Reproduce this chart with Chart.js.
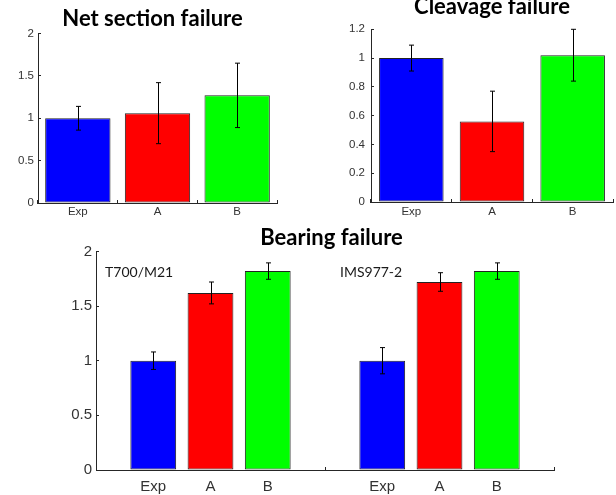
<!DOCTYPE html>
<html lang="en">
  <head>
    <meta charset="UTF-8" />
    <title>Failure mode strength ratios</title>
    <script src="https://cdn.jsdelivr.net/npm/chart.js"></script>
    <style>
      body {
        margin: 0;
        padding: 0;
        background-color: #fff;
        overflow: hidden;
        width: 616px;
        height: 495px;
        position: relative;
      }
      canvas {
        position: absolute;
      }
      #netChart {
        left: 0;
        top: 0;
      }
      #cleavChart {
        left: 308px;
        top: -10px;
      }
      #bearChart {
        left: 0;
        top: 222px;
      }
    </style>
  </head>
  <body>
    <canvas id="netChart" width="305" height="222"></canvas>
    <canvas id="cleavChart" width="308" height="232"></canvas>
    <canvas id="bearChart" width="616" height="273"></canvas>

    <script>
      // categories and colours
      const cats = ["Exp", "A", "B"];
      const barColors = ["#0000ff", "#ff0000", "#00ff00"];

      // Net section failure
      const netValues = [1.0, 1.06, 1.27];
      const netErrors = [0.14, 0.36, 0.38];
      const netTicks = { min: 0, max: 2, step: 0.5 };

      // Cleavage failure
      const cleavValues = [1.0, 0.56, 1.02];
      const cleavErrors = [0.09, 0.21, 0.18];
      const cleavTicks = { min: 0, max: 1.2, step: 0.2 };

      // Bearing failure, two materials
      const groupNames = ["T700/M21", "IMS977-2"];
      const t700Values = [1.0, 1.62, 1.82];
      const t700Errors = [0.08, 0.1, 0.075];
      const imsValues = [1.0, 1.72, 1.82];
      const imsErrors = [0.12, 0.085, 0.075];
      const bearTicks = { min: 0, max: 2, step: 0.5 };

      const axisColor = "#262626";
      const tickFont = { family: "'Liberation Sans', Arial, sans-serif" };
      const titleFont = { family: "Lato, sans-serif", weight: "bold", size: 22, lineHeight: 1 };

      // error bars drawn at each bar through the y scale
      const errorBars = {
        id: "errorBars",
        afterDatasetsDraw(chart) {
          const errs = chart.options.plugins.errorBars.errors;
          const vals = chart.data.datasets[0].data;
          const meta = chart.getDatasetMeta(0);
          const y = chart.scales.y;
          const c = chart.ctx;
          c.save();
          c.strokeStyle = "#000";
          c.lineWidth = 1;
          meta.data.forEach((bar, i) => {
            if (vals[i] == null) return;
            const x = Math.round(bar.x) + 0.5;
            const hi = y.getPixelForValue(vals[i] + errs[i]);
            const lo = y.getPixelForValue(vals[i] - errs[i]);
            c.beginPath();
            c.moveTo(x, hi);
            c.lineTo(x, lo);
            c.moveTo(x - 2.5, hi);
            c.lineTo(x + 2.5, hi);
            c.moveTo(x - 2.5, lo);
            c.lineTo(x + 2.5, lo);
            c.stroke();
          });
          c.restore();
        },
      };

      // material labels inside the bearing chart
      const groupLabels = {
        id: "groupLabels",
        afterDraw(chart) {
          const opts = chart.options.plugins.groupLabels;
          if (!opts.items) return;
          const c = chart.ctx;
          c.save();
          c.font = "14px Lato, sans-serif";
          c.fillStyle = "#1a1a1a";
          c.textBaseline = "middle";
          opts.items.forEach((it) => {
            const x = chart.scales.x.getPixelForValue(it.at) + it.dx;
            const y = chart.scales.y.getPixelForValue(opts.level);
            c.fillText(it.text, x, y);
          });
          c.restore();
        },
      };

      function makeChart(id, cfg) {
        return new Chart(document.getElementById(id), {
          type: "bar",
          data: {
            labels: cfg.labels,
            datasets: [
              {
                data: cfg.values,
                backgroundColor: cfg.colors,
                borderColor: "#222",
                borderWidth: 1,
                borderSkipped: false,
                barPercentage: cfg.barPct,
                categoryPercentage: 1,
              },
            ],
          },
          options: {
            responsive: false,
            animation: false,
            layout: { padding: cfg.pad },
            plugins: {
              legend: { display: false },
              tooltip: { enabled: false },
              title: {
                display: true,
                text: cfg.title,
                color: "#000",
                font: titleFont,
                fullSize: cfg.fullTitle,
                padding: cfg.titlePad,
              },
              errorBars: { errors: cfg.errors },
              groupLabels: cfg.groups || {},
            },
            scales: {
              x: {
                offset: cfg.xOffset,
                afterFit: (s) => {
                  s.height = cfg.xHeight;
                },
                grid: {
                  offset: cfg.xOffset,
                  drawOnChartArea: false,
                  tickLength: -3,
                  color: cfg.xTickColor || axisColor,
                },
                border: { color: axisColor, width: 1 },
                ticks: {
                  color: "#333",
                  font: Object.assign({ size: cfg.fontSize }, tickFont),
                  padding: cfg.xPad,
                  maxRotation: 0,
                  autoSkip: false,
                },
              },
              y: {
                min: cfg.ticks.min,
                max: cfg.ticks.max,
                afterFit: (s) => {
                  s.width = cfg.yWidth;
                },
                grid: {
                  drawOnChartArea: false,
                  tickLength: -3,
                  color: axisColor,
                },
                border: { color: axisColor, width: 1 },
                ticks: {
                  stepSize: cfg.ticks.step,
                  color: "#333",
                  font: Object.assign({ size: cfg.fontSize }, tickFont),
                  padding: cfg.yPad,
                  callback: (v) => String(+v.toFixed(2)),
                },
              },
              // empty right-hand strip, so the title can sit off the plot centre
              spacer: {
                type: "linear",
                position: "right",
                display: true,
                grid: { display: false },
                border: { display: false },
                ticks: { display: false },
                afterFit: (s) => {
                  s.width = cfg.rightGap;
                },
              },
            },
          },
          plugins: [errorBars, groupLabels],
        });
      }

      makeChart("netChart", {
        title: "Net section failure",
        labels: cats,
        values: netValues,
        errors: netErrors,
        colors: barColors,
        ticks: netTicks,
        barPct: 0.82,
        pad: { left: 0, right: 0, top: 0, bottom: 0 },
        fullTitle: true,
        titlePad: { top: 7.5, bottom: 4 },
        xOffset: true,
        xHeight: 19,
        yWidth: 38,
        rightGap: 28,
        fontSize: 11.5,
        xPad: 5.4,
        yPad: 7,
      });

      makeChart("cleavChart", {
        title: "Cleavage failure",
        labels: cats,
        values: cleavValues,
        errors: cleavErrors,
        colors: barColors,
        ticks: cleavTicks,
        barPct: 0.8,
        pad: { left: 0, right: 0, top: 0, bottom: 0 },
        fullTitle: false,
        titlePad: { top: 6, bottom: 11.3 },
        xOffset: true,
        xHeight: 20,
        yWidth: 63,
        rightGap: 3,
        fontSize: 11.5,
        xPad: 6.4,
        yPad: 9,
      });

      // bearing chart: empty slots before, between and after the two groups
      const bearLabels = [""].concat(cats, [""], cats, [""]);
      const bearValues = [null].concat(t700Values, [null], imsValues, [null]);
      const bearErrors = [null].concat(t700Errors, [null], imsErrors, [null]);
      const bearColors = ["#fff"].concat(barColors, ["#fff"], barColors, ["#fff"]);

      makeChart("bearChart", {
        title: "Bearing failure",
        labels: bearLabels,
        values: bearValues,
        errors: bearErrors,
        colors: bearColors,
        ticks: bearTicks,
        barPct: 0.8,
        pad: { left: 47, right: 0, top: 0, bottom: 0 },
        fullTitle: true,
        titlePad: { top: 4.5, bottom: 2.9 },
        xOffset: false,
        xTickColor: (ctx) => (ctx.index === 4 || ctx.index === 8 ? axisColor : "rgba(0,0,0,0)"),
        xHeight: 25,
        yWidth: 49,
        rightGap: 62,
        fontSize: 15,
        xPad: 11,
        yPad: 7,
        groups: {
          level: 1.81,
          items: [
            { text: groupNames[0], at: 0, dx: 9 },
            { text: groupNames[1], at: 4, dx: 15 },
          ],
        },
      });
    </script>
  </body>
</html>
